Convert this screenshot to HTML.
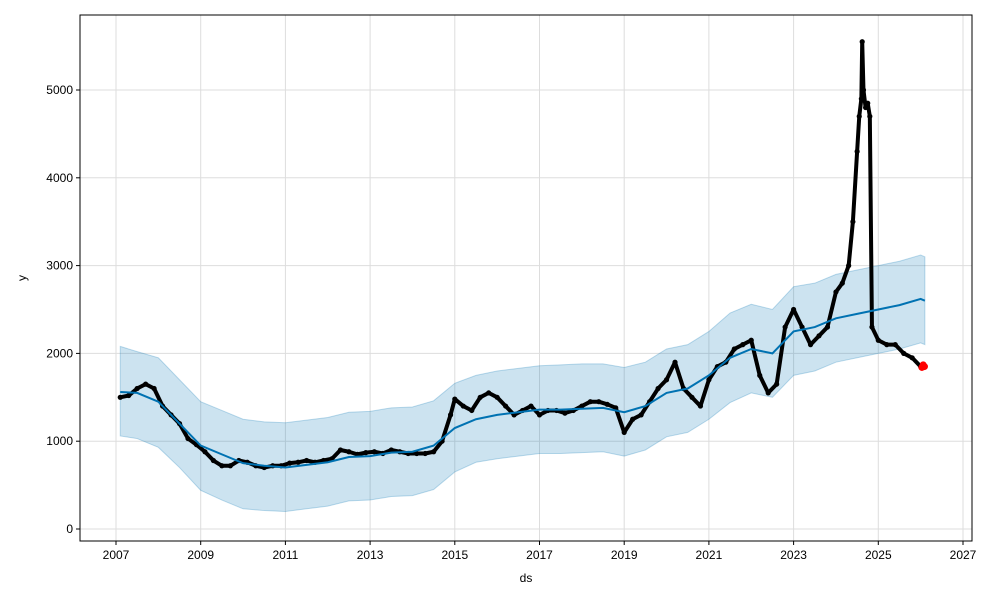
<!DOCTYPE html>
<html><head><meta charset="utf-8"><style>
body{margin:0;background:#fff;font-family:"Liberation Sans","DejaVu Sans",sans-serif}
svg text{font-family:"Liberation Sans","DejaVu Sans",sans-serif;font-size:12px;fill:#000}
</style></head><body>
<svg id="chart" width="1000" height="600" viewBox="0 0 1000 600">
<rect width="1000" height="600" fill="#fff"/>
<g id="grid"></g>
<g id="band"></g>
<g id="actual"></g>
<g id="trend"></g>
<g id="axes"></g>
<text x="526" y="582" text-anchor="middle">ds</text>
<text x="26" y="278" text-anchor="middle" transform="rotate(-90 26 278)">y</text>
</svg>
<script>
const xTicks=[2007,2009,2011,2013,2015,2017,2019,2021,2023,2025,2027];
const yTicks=[0,1000,2000,3000,4000,5000];
const actualT=[2007.1,2007.3,2007.5,2007.7,2007.9,2008.1,2008.3,2008.5,2008.7,2008.9,2009.1,2009.3,2009.5,2009.7,2009.9,2010.1,2010.3,2010.5,2010.7,2010.9,2011.1,2011.3,2011.5,2011.7,2011.9,2012.1,2012.3,2012.5,2012.7,2012.9,2013.1,2013.3,2013.5,2013.7,2013.9,2014.1,2014.3,2014.5,2014.7,2014.9,2015.0,2015.2,2015.4,2015.6,2015.8,2016.0,2016.2,2016.4,2016.6,2016.8,2017.0,2017.2,2017.4,2017.6,2017.8,2018.0,2018.2,2018.4,2018.6,2018.8,2019.0,2019.2,2019.4,2019.6,2019.8,2020.0,2020.2,2020.4,2020.6,2020.8,2021.0,2021.2,2021.4,2021.6,2021.8,2022.0,2022.2,2022.4,2022.6,2022.8,2023.0,2023.2,2023.4,2023.6,2023.8,2024.0,2024.15,2024.3,2024.4,2024.5,2024.55,2024.6,2024.62,2024.65,2024.7,2024.75,2024.8,2024.85,2025.0,2025.2,2025.4,2025.6,2025.8,2026.0];
const actualY=[1500,1520,1600,1650,1600,1400,1300,1200,1030,960,880,780,720,720,780,760,720,700,720,720,750,760,780,760,780,800,900,880,850,870,880,860,900,880,860,860,860,880,1000,1300,1480,1400,1350,1500,1550,1500,1400,1300,1350,1400,1300,1350,1350,1320,1350,1400,1450,1450,1420,1380,1100,1250,1300,1450,1600,1700,1900,1600,1500,1400,1700,1850,1900,2050,2100,2150,1750,1550,1650,2300,2500,2300,2100,2200,2300,2700,2800,3000,3500,4300,4700,4900,5550,5000,4800,4850,4700,2300,2150,2100,2100,2000,1950,1850];
const testT=[2026.03,2026.06,2026.09];
const testY=[1840,1870,1850];
const fcT=[2007.1,2007.5,2008,2008.5,2009,2009.5,2010,2010.5,2011,2011.5,2012,2012.5,2013,2013.5,2014,2014.5,2015,2015.5,2016,2016.5,2017,2017.5,2018,2018.5,2019,2019.5,2020,2020.5,2021,2021.5,2022,2022.5,2023,2023.5,2024,2024.5,2025,2025.5,2026,2026.1];
const fcY=[1560,1550,1450,1200,950,850,750,720,700,730,760,820,830,870,880,950,1150,1250,1300,1330,1360,1360,1370,1380,1330,1400,1550,1600,1750,1950,2050,2000,2250,2300,2400,2450,2500,2550,2620,2600];
const fcLower=[1060,1030,930,700,440,330,230,210,200,230,260,320,330,370,380,450,650,760,800,830,860,860,870,880,830,900,1050,1100,1250,1440,1550,1500,1750,1800,1900,1950,2000,2050,2120,2100];
const fcUpper=[2080,2020,1950,1700,1450,1350,1250,1220,1210,1240,1270,1330,1340,1380,1390,1460,1660,1750,1800,1830,1860,1870,1880,1880,1840,1900,2050,2100,2250,2460,2560,2500,2760,2800,2900,2950,3000,3050,3120,3100];
const X0=80,X1=972,Y0=15,Y1=541;
const xs=t=>116+(t-2007)*42.35;
const ys=v=>529-v*0.0878;
const NS='http://www.w3.org/2000/svg';
function mk(tag,attrs,parent){const e=document.createElementNS(NS,tag);for(const k in attrs)e.setAttribute(k,attrs[k]);parent.appendChild(e);return e;}
const grid=document.getElementById('grid'),axes=document.getElementById('axes');
xTicks.forEach(t=>{const x=xs(t);
 const g=mk('line',{x1:x,x2:x,y1:Y0,y2:Y1,stroke:'#ddd','stroke-width':1},grid);
 
 
 mk('line',{x1:x,x2:x,y1:Y1,y2:Y1+4,stroke:'#000'},axes);
 const tx=mk('text',{x:x,y:Y1+18,'text-anchor':'middle'},axes);tx.textContent=t;
 
 });
yTicks.forEach(v=>{const y=ys(v);
 const g=mk('line',{x1:X0,x2:X1,y1:y,y2:y,stroke:'#ddd','stroke-width':1},grid);
 
 
 mk('line',{x1:X0-4,x2:X0,y1:y,y2:y,stroke:'#000'},axes);
 const tx=mk('text',{x:X0-7,y:y+4,'text-anchor':'end'},axes);tx.textContent=v;
 
 });
mk('rect',{x:X0,y:Y0,width:X1-X0,height:Y1-Y0,fill:'none',stroke:'#000','stroke-width':1},axes);
const band=document.getElementById('band');
let up=fcT.map((t,i)=>xs(t)+','+ys(fcUpper[i])).join(' ');
let lo=fcT.slice().reverse().map((t,j)=>{const i=fcT.length-1-j;return xs(t)+','+ys(fcLower[i]);}).join(' ');
const poly=mk('polygon',{points:up+' '+lo,fill:'#0072B2','fill-opacity':0.2,stroke:'#0072B2','stroke-opacity':0.25},band);


const act=document.getElementById('actual');
const al=mk('polyline',{points:actualT.map((t,i)=>xs(t)+','+ys(actualY[i])).join(' '),fill:'none',stroke:'#000','stroke-width':4,'stroke-linejoin':'round'},act);


actualT.forEach((t,i)=>{const c=mk('circle',{cx:xs(t),cy:ys(actualY[i]),r:2.6,fill:'#000'},act);
 
 });
testT.forEach((t,i)=>{const c=mk('circle',{cx:xs(t),cy:ys(testY[i]),r:3.5,fill:'#ff0000'},act);
 
 });
const tr=document.getElementById('trend');
const fl=mk('polyline',{points:fcT.map((t,i)=>xs(t)+','+ys(fcY[i])).join(' '),fill:'none',stroke:'#0072B2','stroke-width':2},tr);


</script>
</body></html>
